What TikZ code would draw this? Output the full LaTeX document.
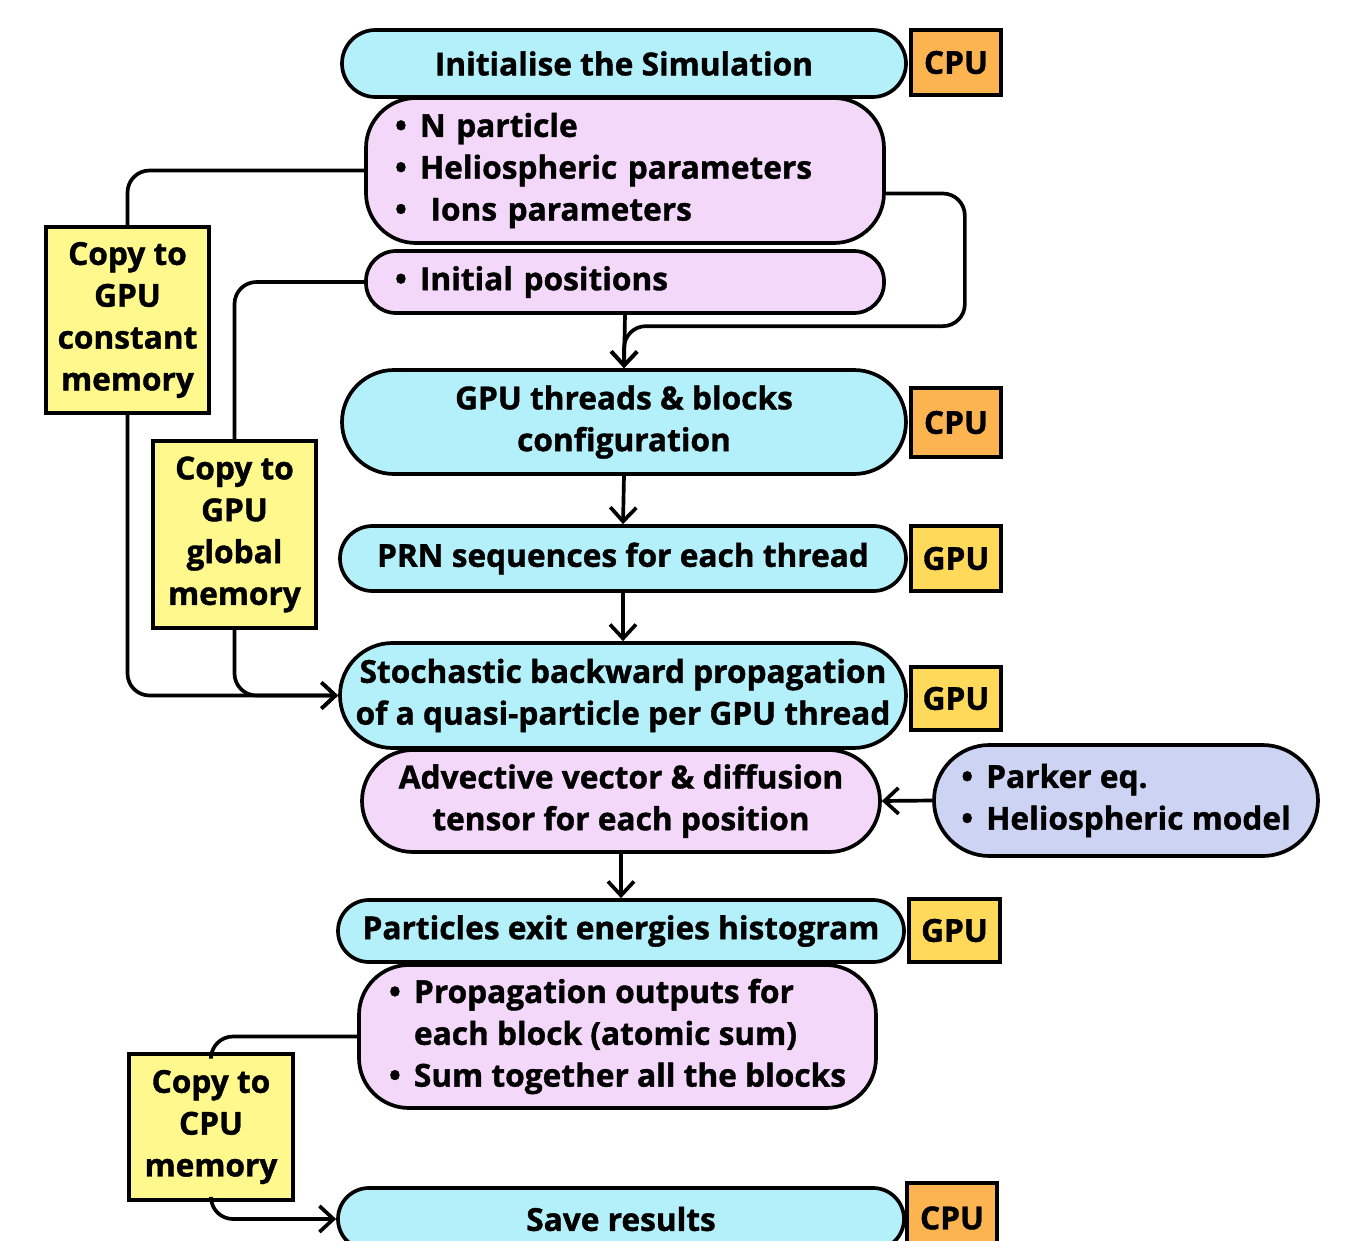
\documentclass[tikz,border=0pt]{standalone}
\usepackage{fontspec}
\setmainfont{Open Sans}[BoldFeatures={FakeBold=1.2}]
\usetikzlibrary{arrows.meta, shapes.misc, positioning, calc}
\definecolor{stagecol}{HTML}{B4F0FA}
\definecolor{detailcol}{HTML}{F3D8FA}
\definecolor{modelcol}{HTML}{CDD3F3}
\definecolor{copycol}{HTML}{FFF98D}
\definecolor{cpucol}{HTML}{FBB44F}
\definecolor{gpucol}{HTML}{FFD95A}
\newcommand{\blt}{\makebox[0.25cm][l]{\textbullet}}

\begin{document}
\begin{tikzpicture}[
	every node/.append style={draw=black, line width=1.05pt, font=\fontsize{9pt}{11.9pt}\selectfont\bfseries, inner sep=0pt},
	stage/.style={rounded rectangle, fill=stagecol, minimum width=5.64cm, align=center},
	detail/.style={rectangle, rounded corners=0.5cm, fill=detailcol, align=left, minimum width=5.18cm, text width=4.6cm, inner xsep=0.29cm},
	unit/.style={rectangle, minimum width=0.9cm},
	copybox/.style={rectangle, fill=copycol, minimum width=1.63cm, align=center},
	link/.style={line width=1.05pt, rounded corners=0.22cm},
	flow/.style={link, -{Straight Barb[length=1.4mm, width=2.6mm]}}]

	\useasboundingbox (0,0) rectangle (13.47,-12.41);

	% main stages
	\node[stage, minimum height=0.67cm] at (6.24,-0.635) (init){Initialise the Simulation};
	\node[unit, fill=cpucol, minimum height=0.65cm] at (9.56,-0.625) (initcpu){CPU};
	\node[detail, minimum height=1.45cm] at (6.25,-1.705) (params){\blt N particle\\\blt Heliospheric parameters\\\blt\ Ions parameters};
	\node[detail, rounded corners=0.3cm, minimum height=0.62cm] at (6.25,-2.82) (initpos){\blt Initial positions};

	\node[stage, minimum height=1.04cm] at (6.24,-4.22) (config){GPU threads \& blocks\\configuration};
	\node[unit, fill=cpucol, minimum height=0.69cm] at (9.56,-4.225) (configcpu){CPU};

	\node[stage, minimum width=5.66cm, minimum height=0.65cm] at (6.23,-5.585) (prn){PRN sequences for each thread};
	\node[unit, fill=gpucol, minimum height=0.65cm] at (9.56,-5.585) (prngpu){GPU};

	\node[stage, minimum width=5.66cm, minimum height=1.05cm] at (6.23,-6.955) (sbp){Stochastic backward propagation\\of a quasi-particle per GPU thread};
	\node[unit, fill=gpucol, minimum height=0.63cm] at (9.56,-6.985) (sbpgpu){GPU};
	\node[rounded rectangle, fill=detailcol, align=center, minimum width=5.18cm, minimum height=1.02cm] at (6.21,-8.01) (advect){Advective vector \& diffusion\\tensor for each position};
	\node[rounded rectangle, fill=modelcol, align=left, minimum width=3.84cm, minimum height=1.11cm] at (11.26,-8.005) (parker){\blt Parker eq.\\\blt Heliospheric model};

	\node[stage, minimum width=5.66cm, minimum height=0.62cm] at (6.21,-9.31) (hist){Particles exit energies histogram};
	\node[unit, fill=gpucol, minimum width=0.91cm, minimum height=0.63cm] at (9.545,-9.305) (histgpu){GPU};
	\node[rectangle, rounded corners=0.5cm, fill=detailcol, align=left, minimum width=5.17cm, minimum height=1.43cm] at (6.175,-10.365) (outputs){\blt Propagation outputs for\\\phantom{\blt}each block (atomic sum)\\\blt Sum together all the blocks};

	\node[stage, minimum width=5.66cm, minimum height=0.62cm] at (6.21,-12.19) (save){Save results};
	\node[unit, fill=cpucol, minimum height=0.7cm] at (9.52,-12.18) (savecpu){CPU};

	% memory copies
	\node[copybox, minimum height=1.86cm] at (1.275,-3.2) (constmem){Copy to\\GPU\\constant\\memory};
	\node[copybox, minimum height=1.87cm] at (2.345,-5.345) (globalmem){Copy to\\GPU\\global\\memory};
	\node[copybox, minimum width=1.64cm, minimum height=1.46cm] at (2.11,-11.27) (cpumem){Copy to\\CPU\\memory};

	% connectors
	\draw[link] (params.west) -| (constmem.north);
	\draw[flow] (constmem.south) |- (sbp.west);
	\draw[link] (initpos.west) -| (globalmem.north);
	\draw[flow] (globalmem.south) |- (sbp.west);
	\draw[flow] (initpos.south) -- (config.north);
	\draw[flow] ([yshift=-0.23cm]params.east) -- ++(0.79,0) |- ([yshift=0.42cm]config.north) -- (config.north);
	\draw[flow] (config.south) -- (prn.north);
	\draw[flow] (prn.south) -- (sbp.north);
	\draw[flow] (parker.west) -- (advect.east);
	\draw[flow] (advect.south) -- (hist.north);
	\draw[link] (outputs.west) -| (cpumem.north);
	\draw[flow] (cpumem.south) |- (save.west);
\end{tikzpicture}
\end{document}
